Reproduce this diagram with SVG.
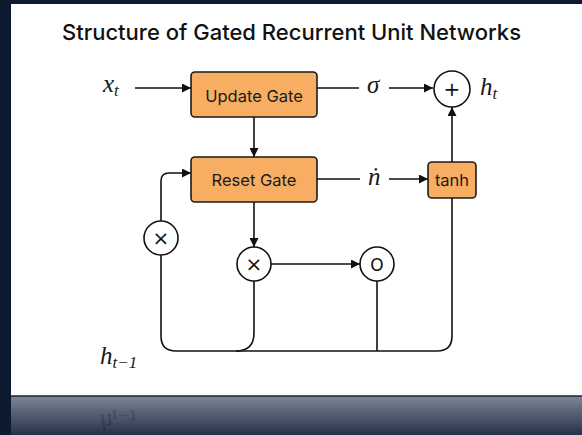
<svg xmlns="http://www.w3.org/2000/svg" width="582" height="435" viewBox="0 0 582 435">
  <defs>
    <marker id="arrow" viewBox="0 0 10 10" refX="10" refY="5" markerWidth="9" markerHeight="9" markerUnits="userSpaceOnUse" orient="auto">
      <path d="M0,0 L10,5 L0,10 z" fill="#111"/>
    </marker>
    <linearGradient id="band" x1="0" y1="0" x2="0" y2="1">
      <stop offset="0" stop-color="#7d8696"/>
      <stop offset="1" stop-color="#26314a"/>
    </linearGradient>
  </defs>
  <style>
    .gate { fill: #f7ae63; stroke: #1a1a1a; stroke-width: 1.6; }
    .op { fill: #fff; stroke: #111; stroke-width: 1.6; }
    .wire { fill: none; stroke: #111; stroke-width: 1.6; }
    .lbl { font-family: Inter, "Liberation Sans", sans-serif; font-size: 16.5px; fill: #1a1a1a; text-anchor: middle; }
    .math { font-family: "Liberation Serif", "DejaVu Serif", serif; font-style: italic; fill: #1a1a1a; font-size: 25px; }
    .sub { font-size: 17px; }
    .sym { font-family: "DejaVu Sans", "Liberation Sans", sans-serif; fill: #111; text-anchor: middle; }
  </style>

  <!-- frame -->
  <rect x="0" y="0" width="582" height="435" fill="#0e1a30"/>
  <rect x="11" y="4" width="571" height="393" fill="#fff"/>
  <rect x="11" y="396" width="571" height="39" fill="url(#band)"/>
  <line x1="11" y1="396" x2="582" y2="396" stroke="#1a2236" stroke-width="1.5"/>

  <!-- title -->
  <text x="291.5" y="40" font-family="Inter, 'Liberation Sans', sans-serif" font-weight="500" font-size="22" fill="#111" text-anchor="middle">Structure of Gated Recurrent Unit Networks</text>

  <!-- connectors -->
  <g id="connectors">
    <line class="wire" x1="135" y1="88" x2="191" y2="88" marker-end="url(#arrow)"/>
    <line class="wire" x1="317" y1="88" x2="359" y2="88"/>
    <line class="wire" x1="389" y1="88" x2="433" y2="88" marker-end="url(#arrow)"/>
    <line class="wire" x1="254" y1="117" x2="254" y2="157" marker-end="url(#arrow)"/>
    <line class="wire" x1="317" y1="179" x2="360" y2="179"/>
    <line class="wire" x1="389" y1="179" x2="428" y2="179" marker-end="url(#arrow)"/>
    <line class="wire" x1="452" y1="162" x2="452" y2="107" marker-end="url(#arrow)"/>
    <line class="wire" x1="254" y1="202" x2="254" y2="247" marker-end="url(#arrow)"/>
    <line class="wire" x1="271" y1="264" x2="360" y2="264" marker-end="url(#arrow)"/>
    <!-- recurrent path: bottom rail up through the left gate into the reset gate -->
    <path class="wire" d="M161,255 V336 Q161,351 176,351 H437 Q452,351 452,336 V198"/>
    <path class="wire" d="M161,221 V181 Q161,173 169,173 H191" marker-end="url(#arrow)"/>
    <path class="wire" d="M254,281 V333 Q254,351 236,351"/>
    <line class="wire" x1="377" y1="281" x2="377" y2="351"/>
  </g>

  <!-- nodes -->
  <g id="update-gate">
    <rect class="gate" x="191" y="72" width="126" height="45" rx="4"/>
    <text class="lbl" x="254" y="101.5">Update Gate</text>
  </g>
  <g id="reset-gate">
    <rect class="gate" x="191" y="157" width="126" height="45" rx="4"/>
    <text class="lbl" x="254" y="186">Reset Gate</text>
  </g>
  <g id="tanh">
    <rect class="gate" x="428" y="162" width="48" height="36" rx="4"/>
    <text class="lbl" x="452" y="186">tanh</text>
  </g>
  <g id="sum">
    <circle class="op" cx="452" cy="89" r="18"/>
    <text class="sym" x="452" y="96" font-size="20">+</text>
  </g>
  <g id="mult-left">
    <circle class="op" cx="161" cy="238" r="17"/>
    <text class="sym" x="161" y="245" font-size="20">×</text>
  </g>
  <g id="mult-mid">
    <circle class="op" cx="254" cy="264" r="17"/>
    <text class="sym" x="254" y="271" font-size="20">×</text>
  </g>
  <g id="circ">
    <circle class="op" cx="377" cy="264" r="17"/>
    <text class="sym" x="377" y="270.5" font-size="17">O</text>
  </g>

  <!-- labels -->
  <g id="labels">
    <text class="math" x="103" y="92">x<tspan class="sub" dy="4">t</tspan></text>
    <text class="math" x="367" y="93">σ</text>
    <text class="math" x="368" y="185">ṅ</text>
    <text class="math" x="480" y="95">h<tspan class="sub" dy="4">t</tspan></text>
    <text class="math" x="100" y="364">h<tspan class="sub" dy="4">t−1</tspan></text>
  </g>

  <!-- mirrored label on the bottom band -->
  <g opacity="0.3">
    <text class="math" transform="translate(0,778) scale(1,-1)" x="100" y="364" fill="#0e1a30">h<tspan class="sub" dy="4">t−1</tspan></text>
  </g>
</svg>
